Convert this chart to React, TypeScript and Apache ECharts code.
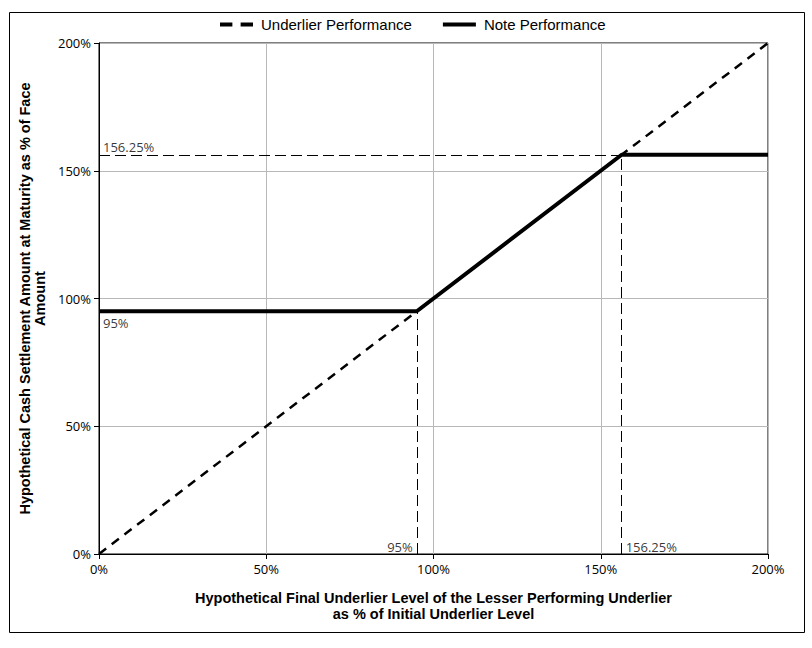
import React, { useEffect, useRef } from "react";
import * as echarts from "echarts";

const underlierX = [0, 200];
const underlierY = [0, 200];
const noteX = [0, 95, 156.25, 200];
const noteY = [95, 95, 156.25, 156.25];
const floorLevel = 95;
const capLevel = 156.25;
const seriesNames = ["Underlier Performance", "Note Performance"];
const xTitle = "Hypothetical Final Underlier Level of the Lesser Performing Underlier\nas % of Initial Underlier Level";
const yTitle = "Hypothetical Cash Settlement Amount at Maturity as % of Face\nAmount";

const labelFont = "'Open Sans', 'Noto Sans', sans-serif";
const titleFont = "'Liberation Sans', Arial, sans-serif";

export default function App() {
  const ref = useRef<HTMLDivElement>(null);
  useEffect(() => {
    if (!ref.current) return;
    const chart = echarts.init(ref.current, null, { renderer: "svg" });
    const annoLine = { color: "#000", width: 1, type: [11, 5] as any };
    const option: any = {
      animation: false,
      backgroundColor: "#fff",
      legend: {
        top: 12,
        left: 215,
        itemWidth: 33,
        itemHeight: 4,
        itemGap: 31,
        symbolKeepAspect: false,
        textStyle: { fontFamily: titleFont, fontSize: 15, color: "#000", padding: [0, 0, 0, 3] },
        data: [
          { name: seriesNames[0], icon: "path://M0,0H12V4H0ZM20,0H32V4H20Z" },
          { name: seriesNames[1], icon: "path://M0,0H32V4H0Z" },
        ],
      },
      grid: {
        left: 99,
        right: 44,
        top: 43,
        bottom: 94,
        show: true,
        borderColor: "#000",
        borderWidth: 1,
      },
      xAxis: {
        type: "value",
        min: 0,
        max: 200,
        interval: 50,
        name: xTitle,
        nameLocation: "middle",
        nameGap: 36,
        nameTextStyle: { fontFamily: titleFont, fontSize: 14.5, fontWeight: "bold", color: "#000", lineHeight: 16 },
        axisLine: { show: true, lineStyle: { color: "#000", width: 1 } },
        axisTick: { show: true, length: 5, lineStyle: { color: "#000" } },
        axisLabel: { formatter: (v: number) => v + "%", fontFamily: labelFont, fontSize: 13, color: "#000", margin: 8 },
        splitLine: { show: true, lineStyle: { color: "#b8b8b8", width: 1 } },
      },
      yAxis: {
        type: "value",
        min: 0,
        max: 200,
        interval: 50,
        name: yTitle,
        nameLocation: "middle",
        nameGap: 49,
        nameTextStyle: { fontFamily: titleFont, fontSize: 14.5, fontWeight: "bold", color: "#000", lineHeight: 15 },
        axisLine: { show: true, lineStyle: { color: "#000", width: 1 } },
        axisTick: { show: true, length: 5, lineStyle: { color: "#000" } },
        axisLabel: { formatter: (v: number) => v + "%", fontFamily: labelFont, fontSize: 13, color: "#000", margin: 8 },
        splitLine: { show: true, lineStyle: { color: "#b8b8b8", width: 1 } },
      },
      series: [
        {
          name: seriesNames[0],
          type: "line",
          symbol: "none",
          data: underlierX.map((x, i) => [x, underlierY[i]]),
          lineStyle: { color: "#000", width: 2.5, type: [9, 7] },
          itemStyle: { color: "#000" },
          z: 3,
        },
        {
          name: seriesNames[1],
          type: "line",
          symbol: "none",
          data: noteX.map((x, i) => [x, noteY[i]]),
          lineStyle: { color: "#000", width: 4 },
          itemStyle: { color: "#000" },
          z: 4,
          markLine: {
            silent: true,
            symbol: "none",
            label: { show: false },
            lineStyle: annoLine,
            data: [
              [{ coord: [0, capLevel] }, { coord: [capLevel, capLevel] }],
              [{ coord: [floorLevel, 0] }, { coord: [floorLevel, floorLevel] }],
              [{ coord: [capLevel, 0] }, { coord: [capLevel, capLevel] }],
            ],
          },
        },
        {
          name: "annotations",
          type: "scatter",
          symbolSize: 0,
          silent: true,
          z: 5,
          label: { show: true, fontFamily: labelFont, fontSize: 13, color: "#000" },
          data: [
            { value: [0, capLevel], label: { formatter: capLevel + "%", position: "right", align: "left", verticalAlign: "bottom", offset: [-1, -1] } },
            { value: [0, floorLevel], label: { formatter: floorLevel + "%", position: "right", align: "left", verticalAlign: "top", offset: [-1, 5] } },
            { value: [floorLevel, 0], label: { formatter: floorLevel + "%", position: "left", align: "right", verticalAlign: "bottom", offset: [1, -1] } },
            { value: [capLevel, 0], label: { formatter: capLevel + "%", position: "right", align: "left", verticalAlign: "bottom", offset: [-1, -1] } },
          ],
        },
      ],
      graphic: [
        {
          type: "rect",
          shape: { x: 9.5, y: 12.5, width: 795, height: 620 },
          style: { fill: "none", stroke: "#000", lineWidth: 1 },
          silent: true,
          z: -1,
        },
      ],
    };
    chart.setOption(option);
    return () => chart.dispose();
  }, []);
  return <div ref={ref} style={{ position: "absolute", left: 0, top: 0, width: 812, height: 648 }} />;
}
